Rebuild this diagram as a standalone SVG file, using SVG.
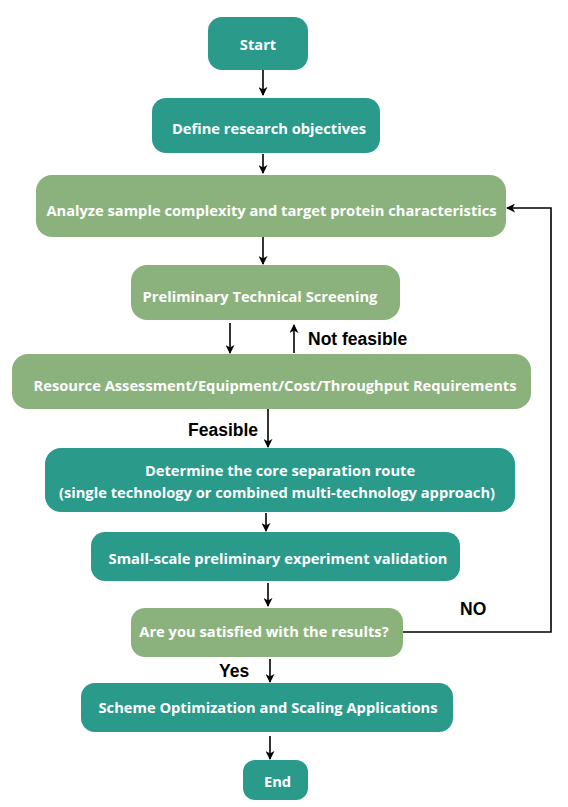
<svg xmlns="http://www.w3.org/2000/svg" width="568" height="807" viewBox="0 0 568 807">
<defs>
<marker id="ah" viewBox="0 0 10 10" refX="9" refY="5" markerWidth="9" markerHeight="9" markerUnits="userSpaceOnUse" orient="auto">
<path d="M0,0 L10,5 L0,10 L3,5 Z" fill="#000"/>
</marker>
</defs>
<style>
.teal{fill:#2a9a8b}
.green{fill:#8bb27c}
.t{font-family:"Open Sans","Liberation Sans",sans-serif;font-weight:bold;font-size:14.7px;fill:#fff;text-anchor:middle;dominant-baseline:central}
.lbl{font-family:"Liberation Sans",Arial,sans-serif;font-weight:bold;font-size:17.5px;fill:#000}
.c{stroke:#000;stroke-width:1.6;fill:none;marker-end:url(#ah)}
</style>
<rect width="568" height="807" fill="#fff"/>
<g id="start"><rect class="teal" x="208" y="17" width="100" height="53" rx="14"/><text class="t" x="258" y="44">Start</text></g>
<g id="define"><rect class="teal" x="152" y="98" width="228" height="55" rx="14"/><text class="t" x="269" y="128">Define research objectives</text></g>
<g id="analyze"><rect class="green" x="36" y="175" width="470" height="62" rx="16"/><text class="t" x="271.5" y="210">Analyze sample complexity and target protein characteristics</text></g>
<g id="screening"><rect class="green" x="131" y="265" width="269" height="55" rx="16"/><text class="t" x="260" y="296">Preliminary Technical Screening</text></g>
<g id="resource"><rect class="green" x="12" y="354" width="519" height="55" rx="16"/><text class="t" x="275" y="385">Resource Assessment/Equipment/Cost/Throughput Requirements</text></g>
<g id="determine"><rect class="teal" x="45" y="448" width="470" height="64" rx="16"/><text class="t" x="280" y="470">Determine the core separation route</text><text class="t" x="277" y="492">(single technology or combined multi-technology approach)</text></g>
<g id="smallscale"><rect class="teal" x="91" y="532" width="369" height="49" rx="14"/><text class="t" x="278" y="558">Small-scale preliminary experiment validation</text></g>
<g id="satisfied"><rect class="green" x="131" y="608" width="272" height="49" rx="14"/><text class="t" x="264" y="631">Are you satisfied with the results?</text></g>
<g id="scheme"><rect class="teal" x="81" y="683" width="372" height="49" rx="14"/><text class="t" x="268" y="707">Scheme Optimization and Scaling Applications</text></g>
<g id="end"><rect class="teal" x="243" y="760" width="65" height="40" rx="12"/><text class="t" x="277.5" y="781">End</text></g>
<g id="connectors">
<line class="c" x1="263" y1="70" x2="263" y2="95"/>
<line class="c" x1="263" y1="154" x2="263" y2="173"/>
<line class="c" x1="263" y1="237" x2="263" y2="264"/>
<line class="c" x1="230" y1="323" x2="230" y2="353"/>
<line class="c" x1="294" y1="353" x2="294" y2="325"/>
<line class="c" x1="268" y1="409" x2="268" y2="447"/>
<line class="c" x1="266" y1="513" x2="266" y2="531"/>
<line class="c" x1="268" y1="583" x2="268" y2="606"/>
<line class="c" x1="270" y1="659" x2="270" y2="682"/>
<line class="c" x1="270" y1="736" x2="270" y2="759"/>
<polyline class="c" points="403,632 551,632 551,208 507,208"/>
</g>
<text class="lbl" x="308" y="345">Not feasible</text>
<text class="lbl" x="188" y="436">Feasible</text>
<text class="lbl" x="460" y="615">NO</text>
<text class="lbl" x="219" y="677">Yes</text>
</svg>
